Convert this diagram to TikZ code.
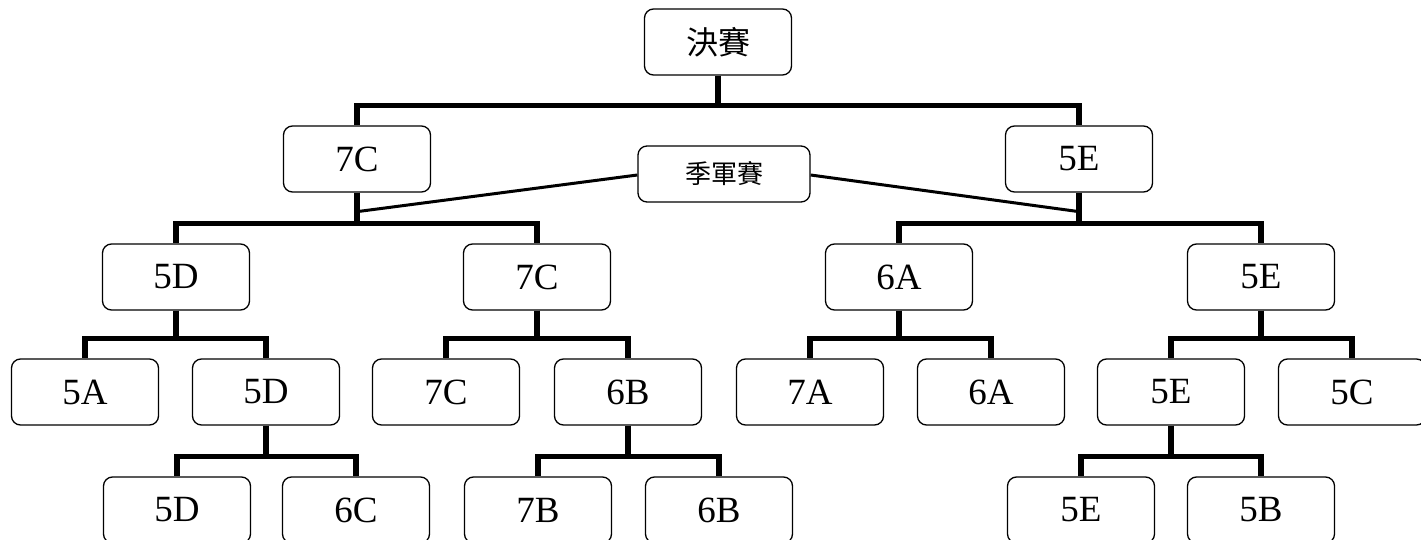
\documentclass[tikz,border=0pt]{standalone}
\usepackage{fontspec}
\setmainfont{Liberation Serif}
\newfontfamily\cjkfont{Noto Sans CJK TC}
\usetikzlibrary{%
    calc,
    positioning
}

\begin{document}
\begin{tikzpicture}[x=1pt, y=-1pt,
        team/.style={draw, rounded corners=9pt, line width=1.3pt,
                     minimum width=147pt, minimum height=66pt,
                     font=\fontsize{37}{44}\selectfont},
        bracket/.style={line width=5.5pt},
        thirdlink/.style={line width=3pt},
    ]
    \useasboundingbox (0,0) rectangle (1421,540);

    % final and third place
    \node[team, font=\cjkfont\fontsize{32}{38}\selectfont] (final) at (718,42) {決賽};
    \node[team, minimum width=172pt, minimum height=56pt,
          font=\cjkfont\fontsize{26}{30}\selectfont] (third) at (724,174) {\raisebox{-4pt}{季軍賽}};

    % semi finals
    \node[team] (s1) at (357,159) {7C};
    \node[team] (s2) at (1079,159) {5E};

    % quarter finals
    \node[team] (q1) at (176,277) {5D};
    \node[team] (q2) at (537,277) {7C};
    \node[team] (q3) at (899,277) {6A};
    \node[team] (q4) at (1261,277) {5E};

    % round three
    \node[team] (r1) at (85,392)   {5A};
    \node[team] (r2) at (266,392)  {5D};
    \node[team] (r3) at (446,392)  {7C};
    \node[team] (r4) at (628,392)  {6B};
    \node[team] (r5) at (810,392)  {7A};
    \node[team] (r6) at (991,392)  {6A};
    \node[team] (r7) at (1171,392) {5E};
    \node[team] (r8) at (1352,392) {5C};

    % first round
    \node[team] (f1) at (177,510)  {5D};
    \node[team] (f2) at (356,510)  {6C};
    \node[team] (f3) at (538,510)  {7B};
    \node[team] (f4) at (719,510)  {6B};
    \node[team] (f5) at (1081,510) {5E};
    \node[team] (f6) at (1261,510) {5B};

    \foreach \Parent/\Left/\Right in {%
        final/s1/s2,
        s1/q1/q2,
        s2/q3/q4,
        q1/r1/r2,
        q2/r3/r4,
        q3/r5/r6,
        q4/r7/r8,
        r2/f1/f2,
        r4/f3/f4,
        r7/f5/f6%
        }
    {
        \draw[bracket] (\Parent.south) |- ([yshift=20pt]\Left.north) -- (\Left.north);
        \draw[bracket] (\Parent.south) |- ([yshift=20pt]\Right.north) -- (\Right.north);
    }

    \coordinate (t1) at ([yshift=-19pt]s1.south);
    \coordinate (t2) at ([yshift=-19pt]s2.south);
    \draw[thirdlink] ([yshift=-1pt]third.west) -- (t1);
    \draw[thirdlink] ([yshift=-1pt]third.east) -- (t2);
\end{tikzpicture}
\end{document}
